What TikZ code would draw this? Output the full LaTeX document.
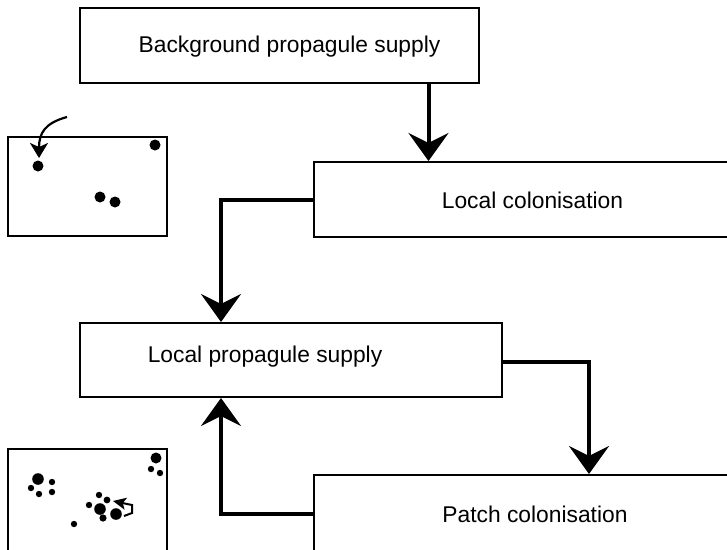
\documentclass[tikz,border=0pt]{standalone}
\usepackage{fontspec}
\setmainfont{Liberation Sans}
\usetikzlibrary{arrows.meta}
\begin{document}
\begin{tikzpicture}[x=1pt,y=-1pt,
  box/.style={draw, line width=2pt, fill=white, inner sep=0pt},
  lbl/.style={font=\fontsize{22.8}{27}\selectfont, inner sep=0pt},
  arr/.style={line width=4pt, -{Stealth[length=28pt,width=40pt,inset=10pt]}},
  dot/.style={fill=black},
  panel/.style={line width=2.8pt}]
\useasboundingbox (0,0) rectangle (727,549);
% main boxes
\node[box, minimum width=399pt, minimum height=75pt] (bg) at (279,45.5) {};
\node[lbl] (bgt) at (289.5,47) {Background propagule supply};
\node[box, minimum width=446pt, minimum height=75pt] (lc) at (537,199.5) {};
\node[lbl] (lct) at (532.5,200) {Local colonisation};
\node[box, minimum width=422pt, minimum height=74pt] (lp) at (291,360) {};
\node[lbl] (lpt) at (265,357) {Local propagule supply};
\node[box, minimum width=446pt, minimum height=78pt] (pc) at (537,514) {};
\node[lbl] (pct) at (535,514) {Patch colonisation};
% connectors
\draw[arr] ([xshift=-51pt]bg.south east) -- ([xshift=-51pt]bg.south east |- lc.north);
\draw[arr] (lc.west) -| ([xshift=142pt]lp.north west);
\draw[arr] ([yshift=-2pt]lp.east) -| ([xshift=276pt]pc.north west);
\draw[arr] (pc.west) -| ([xshift=142pt]lp.south west);
% top panel
\draw[panel] (8,137) rectangle (167,236);
\foreach \p/\r in {{(38,166)}/5.5, {(155,145)}/5.5, {(100,197)}/5.5, {(115,202)}/5.5}
  \fill[dot] \p circle (\r pt);
\draw[line width=2.2pt, -{Stealth[length=15pt,width=18pt,inset=4pt]}]
  (67,117) .. controls (45,123) and (39,133) .. (39,158);
% bottom panel
\draw[panel] (8,449) rectangle (167,575);
\foreach \p/\r in {{(38,479)}/5.8, {(52,482)}/3.2, {(31,488)}/3.2, {(39,494)}/3.2, {(52,492)}/3.2,
  {(99,495)}/3.2, {(107,500)}/3.4, {(89,505)}/3.2, {(100,509)}/5.8, {(116,514)}/5.8,
  {(103,518)}/3.6, {(74,524)}/3.2, {(156,458)}/5.5, {(151,469)}/3.2, {(160,473)}/3.2}
  \fill[dot] \p circle (\r pt);
\draw[line width=2pt, -{Stealth[length=13pt,width=12pt,inset=3pt]}]
  (124,516) -- (132,513) -- (132,505) -- (113,501);
\end{tikzpicture}
\end{document}
